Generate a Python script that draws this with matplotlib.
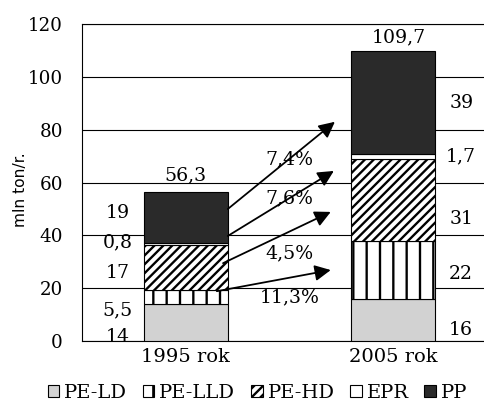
import numpy as np
import matplotlib
matplotlib.use("Agg")
import matplotlib.pyplot as plt
import matplotlib.patches as mpatches

plt.rcParams['font.family'] = ['DejaVu Serif']
plt.rcParams['hatch.linewidth'] = 2.1

years = ["1995 rok", "2005 rok"]
series = ["PE-LD", "PE-LLD", "PE-HD", "EPR", "PP"]
values = {
    "PE-LD":  [14, 16],
    "PE-LLD": [5.5, 22],
    "PE-HD":  [17, 31],
    "EPR":    [0.8, 1.7],
    "PP":     [19, 39],
}
totals = [56.3, 109.7]
growth = ["11,3%", "4,5%", "7,6%", "7,4%"]  # PE-LLD, PE-HD, EPR, PP

styles = {
    "PE-LD":  dict(facecolor="#d2d2d2", hatch=None),
    "PE-LLD": dict(facecolor="white", hatch="|"),
    "PE-HD":  dict(facecolor="white", hatch="///"),
    "EPR":    dict(facecolor="white", hatch=None),
    "PP":     dict(facecolor="#2a2a2a", hatch=None),
}

def fmt(v):
    return (f"{v:g}").replace(".", ",")

fig = plt.figure(figsize=(6.05, 5.175), dpi=80)
ax = fig.add_axes([0.169, 0.176, 0.831, 0.766])

x = np.arange(len(years))
width = 0.405
bottom = np.zeros(len(years))
for s in series:
    vals = np.array(values[s], dtype=float)
    ax.bar(x, vals, width, bottom=bottom, edgecolor="black", linewidth=1,
           zorder=3, label=s, **styles[s])
    bottom += vals

# value labels (placed to avoid overlap)
left_y = [1.5, 11.7, 25.8, 37.5, 48.5]
right_y = [4.2, 25.4, 46.2, 70, 90.2]
for s, ly, ry in zip(series, left_y, right_y):
    ax.text(x[0] - 0.33, ly, fmt(values[s][0]), ha="center", va="center", fontsize=17)
    ax.text(x[1] + 0.33, ry, fmt(values[s][1]), ha="center", va="center", fontsize=17)

ax.text(x[0], 62.9, fmt(totals[0]), ha="center", va="center", fontsize=17)
ax.text(x[1] + 0.03, 115, fmt(totals[1]), ha="center", va="center", fontsize=17)

# growth arrows
arrow_start = [(0.15, 18.9), (0.18, 29.5), (0.203, 39.8), (0.203, 50)]
arrow_end = [(0.70, 26.9), (0.70, 48.9), (0.715, 64.4), (0.72, 83)]
pct_y = [16.7, 33.3, 54.2, 68.6]
for st, en, py, g in zip(arrow_start, arrow_end, pct_y, growth):
    ax.annotate("", xy=en, xytext=st, zorder=5,
                arrowprops=dict(arrowstyle="-|>", mutation_scale=30,
                                color="black", lw=1.6, shrinkA=0, shrinkB=0))
    ax.text(0.50, py, g, ha="center", va="center", fontsize=17, zorder=4)

ax.set_xlim(-0.502, 1.44)
ax.set_ylim(0, 120)
ax.set_yticks(np.arange(0, 121, 20))
ax.yaxis.grid(True, color="black", linewidth=1, zorder=0)
ax.set_axisbelow(True)
ax.tick_params(axis="y", length=0, pad=17, labelsize=16.5)
ax.tick_params(axis="x", length=0, pad=6)
ax.set_xticks(x)
ax.set_xticklabels(years, fontsize=17.5)
ax.spines["right"].set_visible(False)
for sp in ["left", "bottom", "top"]:
    ax.spines[sp].set_linewidth(1)
ax.set_ylabel("mln ton/r.", fontsize=14, family=["DejaVu Sans"])
ax.yaxis.set_label_coords(-0.134, 0.476)

handles = [mpatches.Patch(edgecolor="black", linewidth=1, **styles[s]) for s in series]
fig.legend(handles, series, loc="center", bbox_to_anchor=(0.532, 0.051), ncol=5,
           frameon=False, fontsize=17.5, handlelength=0.6, handleheight=0.6,
           handletextpad=0.25, columnspacing=0.8)

fig.savefig("out.png", dpi=80)
